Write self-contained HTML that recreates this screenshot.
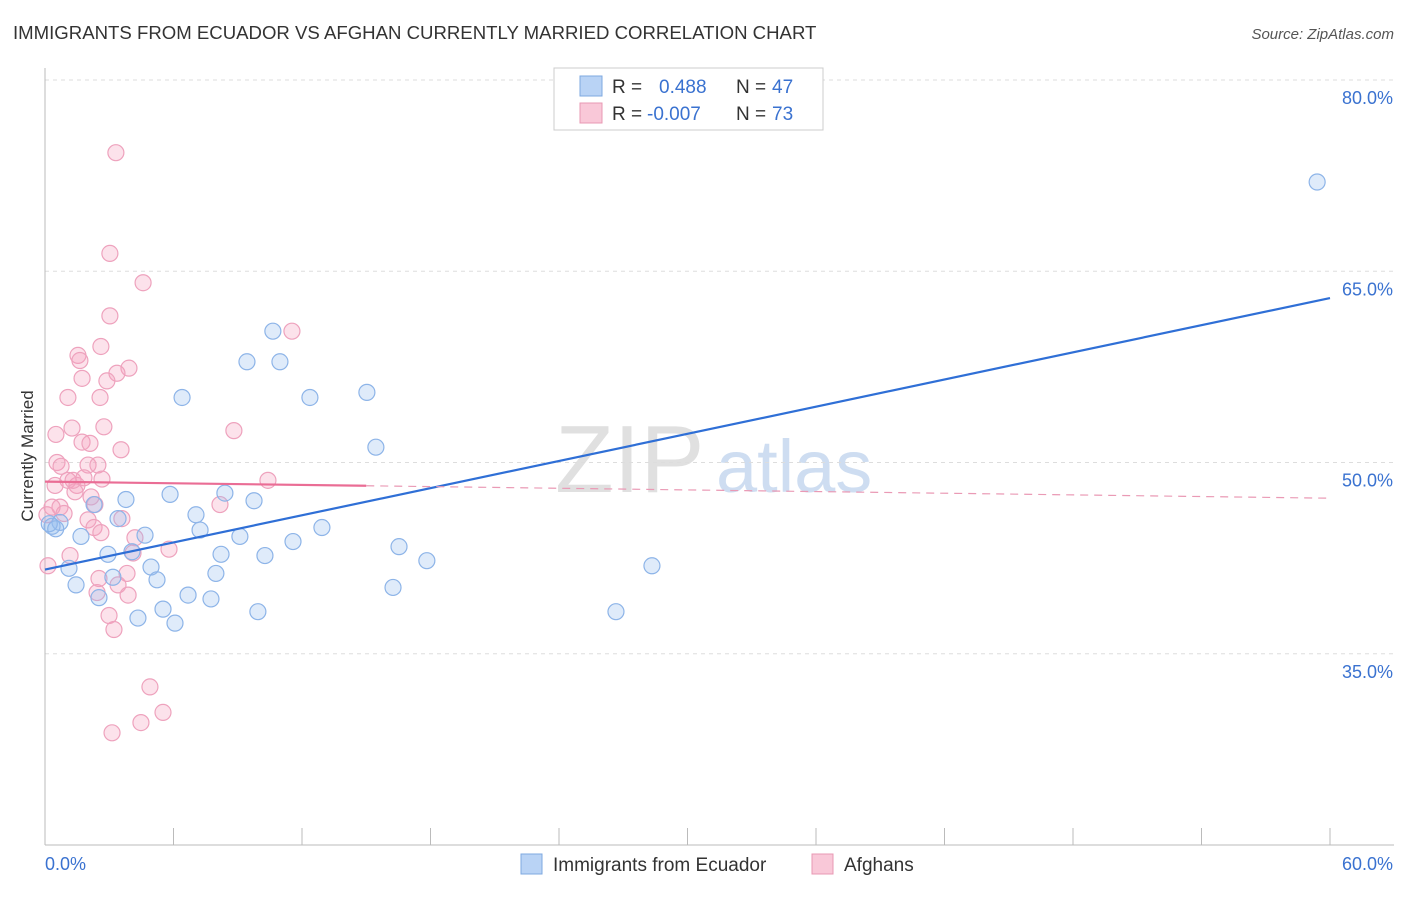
<!DOCTYPE html>
<html><head><meta charset="utf-8">
<style>
body{margin:0;background:#fff;font-family:"Liberation Sans",sans-serif;}
svg text{font-family:"Liberation Sans",sans-serif;}
</style></head>
<body>
<svg id="chart" width="1406" height="892" viewBox="0 0 1406 892" xmlns="http://www.w3.org/2000/svg">
<text x="13" y="39" font-size="18.6" fill="#333">IMMIGRANTS FROM ECUADOR VS AFGHAN CURRENTLY MARRIED CORRELATION CHART</text>
<text x="1394" y="39" font-size="15" fill="#555" text-anchor="end" font-style="italic">Source: ZipAtlas.com</text>
<text transform="translate(33,456) rotate(-90)" font-size="17" fill="#333" text-anchor="middle">Currently Married</text>
<g opacity="0.9">
<text x="555" y="492" font-size="96" fill="#ddd" font-family="Liberation Serif, serif">ZIP</text>
<text x="716" y="492" font-size="74" fill="#c9daf0">atlas</text>
</g>
<g id="grid"></g>
<g id="axes"></g>
<g id="points"></g>
<g id="trends"></g>
<g>
<rect x="554" y="68" width="269" height="62" fill="#fff" stroke="#ccc"/>
<rect x="580" y="76" width="22" height="20" fill="#b9d3f5" stroke="#7ea8e0"/>
<text x="612" y="93" font-size="19" fill="#333">R = </text>
<text x="659" y="93" font-size="19" fill="#3a72d0">0.488</text>
<text x="736" y="93" font-size="19" fill="#333">N = </text>
<text x="772" y="93" font-size="19" fill="#3a72d0">47</text>
<rect x="580" y="103" width="22" height="20" fill="#f9c8d8" stroke="#e898b3"/>
<text x="612" y="120" font-size="19" fill="#333">R = </text>
<text x="647" y="120" font-size="19" fill="#3a72d0">-0.007</text>
<text x="736" y="120" font-size="19" fill="#333">N = </text>
<text x="772" y="120" font-size="19" fill="#3a72d0">73</text>
</g>
<g>
<rect x="521" y="854" width="21" height="20" fill="#b9d3f5" stroke="#7ea8e0"/>
<text x="553" y="871" font-size="19" fill="#333">Immigrants from Ecuador</text>
<rect x="812" y="854" width="21" height="20" fill="#f9c8d8" stroke="#e898b3"/>
<text x="844" y="871" font-size="19" fill="#333">Afghans</text>
</g>
</svg>
<script>
const xTicks=[0,60];
const yTicks=[80,65,50,35];
const blueX=[59.4,10.64,9.43,10.97,6.40,12.37,15.03,15.45,5.84,8.40,3.78,9.76,7.05,2.29,3.41,0.70,0.33,4.67,1.68,7.24,9.10,12.93,11.58,4.06,2.94,8.22,10.27,16.53,17.83,28.34,1.12,4.95,7.98,5.23,3.17,1.45,2.52,6.68,7.75,16.25,5.51,4.34,6.07,9.94,26.66,0.2,0.5];
const blueY=[72.0,60.3,57.9,57.9,55.1,55.1,55.5,51.2,47.5,47.6,47.1,47.0,45.9,46.7,45.6,45.3,45.0,44.3,44.2,44.7,44.2,44.9,43.8,43.0,42.8,42.8,42.7,43.4,42.3,41.9,41.7,41.8,41.3,40.8,41.0,40.4,39.4,39.6,39.3,40.2,38.5,37.8,37.4,38.3,38.3,45.2,44.8];
const pinkX=[3.31,3.03,4.58,3.03,11.53,2.61,1.54,1.63,3.92,3.36,1.73,2.89,1.07,2.57,8.82,1.26,2.75,0.51,1.73,2.10,3.55,0.56,0.75,2.01,2.47,10.41,2.66,1.07,0.47,1.49,1.40,2.15,0.70,8.17,2.33,0.09,2.01,3.59,0.89,2.29,2.61,4.20,5.79,1.17,4.11,0.14,2.52,3.83,3.41,2.43,3.88,2.99,3.22,4.90,4.48,5.51,3.13,0.33,1.31,1.82];
const pinkY=[74.3,66.4,64.1,61.5,60.3,59.1,58.4,58.0,57.4,57.0,56.6,56.4,55.1,55.1,52.5,52.7,52.8,52.2,51.6,51.5,51.0,50.0,49.7,49.8,49.8,48.6,48.7,48.6,48.2,48.2,47.7,47.3,46.5,46.7,46.7,45.9,45.5,45.6,46.0,44.9,44.5,44.1,43.2,42.7,42.9,41.9,40.9,41.3,40.4,39.8,39.6,38.0,36.9,32.4,29.6,30.4,28.8,46.5,48.6,48.8];
const blueTrend=[41.6,62.9];
const pinkTrend=[48.5,47.2];
const pinkSolidEnd=15;

const X0=45,X1=1330,XMAX=60;
const sx=v=>X0+(v/XMAX)*(X1-X0);
const sy=v=>80+(80-v)*12.75;
const NS='http://www.w3.org/2000/svg';
function mk(tag,attrs,parent){const e=document.createElementNS(NS,tag);for(const k in attrs)e.setAttribute(k,attrs[k]);parent.appendChild(e);return e;}
const grid=document.getElementById('grid'),axes=document.getElementById('axes'),pts=document.getElementById('points'),tr=document.getElementById('trends');
yTicks.forEach(t=>{
 const l=mk('line',{x1:X0,x2:1394,y1:sy(t),y2:sy(t),stroke:'#ddd','stroke-dasharray':'4,4'},grid);
 
 
 const tx=mk('text',{x:1393,y:sy(t)+24,'font-size':18,fill:'#3a72d0','text-anchor':'end'},axes);
 tx.textContent=t.toFixed(1)+'%';
 
 
});
const ya=mk('line',{x1:X0,x2:X0,y1:68,y2:845,stroke:'#bbb'},axes);


const xa=mk('line',{x1:X0,x2:1394,y1:845,y2:845,stroke:'#bbb'},axes);


for(let i=0;i<=10;i++){
 const v=i*6;
 const tk=mk('line',{x1:sx(v),x2:sx(v),y1:828,y2:845,stroke:'#bbb'},axes);
 
 
}
xTicks.forEach((t,i)=>{
 const tx=mk('text',{x:i==0?45:1393,y:870,'font-size':18,fill:'#3a72d0','text-anchor':i==0?'start':'end'},axes);
 tx.textContent=t.toFixed(1)+'%';
 
 
});
pinkX.forEach((x,i)=>{
 const c=mk('circle',{cx:sx(x),cy:sy(pinkY[i]),r:8,fill:'rgba(244,160,190,0.3)',stroke:'#eea2bd','stroke-width':1.2},pts);
 
 
});
blueX.forEach((x,i)=>{
 const c=mk('circle',{cx:sx(x),cy:sy(blueY[i]),r:8,fill:'rgba(150,190,240,0.3)',stroke:'#8db4e8','stroke-width':1.2},pts);
 
 
});
const pAt=v=>pinkTrend[0]+(pinkTrend[1]-pinkTrend[0])*v/XMAX;
const b=mk('line',{x1:sx(0),y1:sy(blueTrend[0]),x2:sx(XMAX),y2:sy(blueTrend[1]),stroke:'#2f6fd6','stroke-width':2.2},tr);


const p1=mk('line',{x1:sx(0),y1:sy(pAt(0)),x2:sx(pinkSolidEnd),y2:sy(pAt(pinkSolidEnd)),stroke:'#ea6d95','stroke-width':2.2},tr);


const p2=mk('line',{x1:sx(pinkSolidEnd),y1:sy(pAt(pinkSolidEnd)),x2:sx(XMAX),y2:sy(pAt(XMAX)),stroke:'#ea9ab5','stroke-width':1.2,'stroke-dasharray':'8,6'},tr);


</script>
</body></html>
